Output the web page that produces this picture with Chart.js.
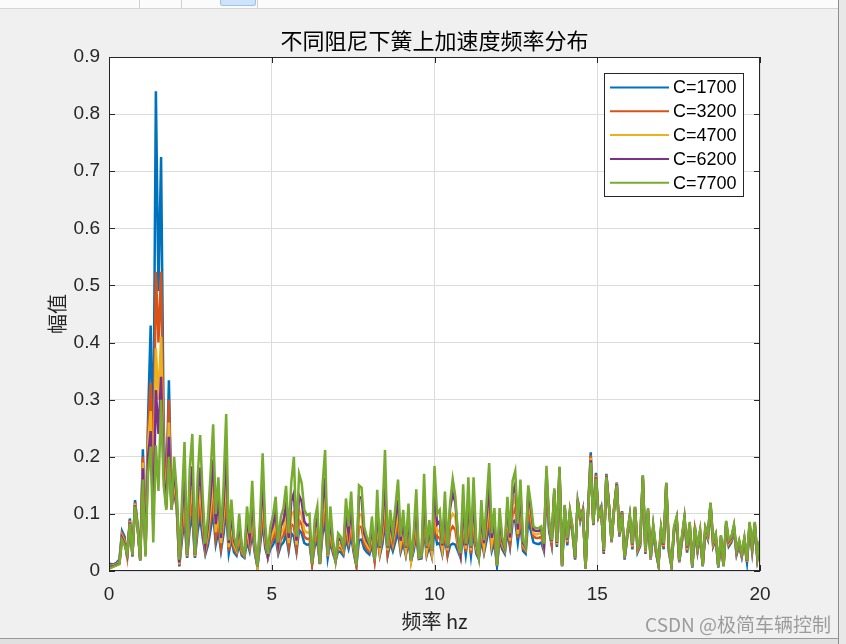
<!DOCTYPE html>
<html>
<head>
<meta charset="utf-8">
<title>不同阻尼下簧上加速度频率分布</title>
<script src="https://cdn.jsdelivr.net/npm/chart.js@4.4.1/dist/chart.umd.min.js"></script>
<style>
  html, body { margin: 0; padding: 0; background: #f0f0f0; overflow: hidden; }
  #wrap { position: relative; width: 846px; height: 644px; }
  #myChart { position: absolute; left: 0; top: 0; }
  .topbar { position: absolute; left: 0; top: 0; width: 838px; height: 8px; background: #fbfbfb; border-bottom: 1px solid #d4d4d4; }
  .sep { position: absolute; top: 0; width: 1px; height: 8px; background: #d0d0d0; }
  .btn { position: absolute; top: 0; left: 220px; width: 34px; height: 5px; background: #cfe3fa; border: 1px solid #99c2ee; border-top: none; border-radius: 0 0 3px 3px; }
  .edgeR { position: absolute; left: 838px; top: 0; width: 8px; height: 644px; background: #e8e8e8; border-left: 1px solid #8c8c8c; }
  .edgeB { position: absolute; left: 0; top: 638px; width: 838px; height: 6px; background: #e0e0e0; border-top: 1px solid #9a9a9a; }
</style>
</head>
<body>
<div id="wrap">
  <canvas id="myChart" width="846" height="644"></canvas>
  <div class="topbar"></div>
  <div class="sep" style="left:139px"></div>
  <div class="sep" style="left:181px"></div>
  <div class="btn"></div>
  <div class="sep" style="left:257px"></div>
  <div class="edgeR"></div>
  <div class="edgeB"></div>
</div>
<script>
// frequency step of the spectrum (Hz), points start at 0 Hz
const freqStep = 0.08;

const seriesNames = ['C=1700', 'C=3200', 'C=4700', 'C=6200', 'C=7700'];
const seriesColors = ['#0072BD', '#D95319', '#EDB120', '#7E2F8E', '#77AC30'];

const xTicks = [0, 5, 10, 15, 20];
const yTicks = [0, 0.1, 0.2, 0.3, 0.4, 0.5, 0.6, 0.7, 0.8, 0.9];

// amplitude values
const c1700 = [
  .013,.012,.012,.015,.02,.07,.06,.022,.092,.025,
  .124,.08,.018,.213,.04,.268,.43,.2,.84,.49,
  .725,.25,.13,.334,.11,.14,.11,.008,.054,.091,
  .023,.075,.096,.023,.068,.095,.058,.029,.045,.072,
  .102,.047,.069,.035,.065,.108,.031,.056,.033,.027,
  .047,.027,.023,.052,.035,.067,.031,.007,.044,.084,
  .04,.023,.039,.046,.058,.03,.045,.05,.064,.035,
  .066,.06,.033,.072,.066,.049,.046,.047,.012,.044,
  .052,.012,.065,.086,.023,.052,.031,.017,.035,.033,
  .027,.056,.039,.061,.031,.009,.054,.055,.039,.033,
  .029,.045,.018,.062,.027,.047,.086,.027,.049,.035,
  .052,.068,.033,.049,.027,.053,.017,.035,.062,.021,
  .022,.072,.027,.043,.025,.076,.047,.049,.029,.061,
  .027,.045,.048,.046,.035,.023,.065,.029,.069,.027,
  .069,.031,.021,.055,.031,.054,.078,.035,.05,.009,
  .055,.038,.03,.07,.042,.085,.089,.05,.085,.035,
  .03,.09,.07,.05,.048,.047,.05,.035,.14,.07,
  .045,.13,.042,.17,.008,.105,.045,.095,.065,.02,
  .125,.088,.108,.004,.11,.208,.08,.172,.098,.112,
  .03,.17,.116,.05,.112,.155,.06,.105,.02,.058,
  .09,.038,.108,.033,.044,.16,.03,.1,.02,.07,
  .033,.01,.068,.038,.147,.033,.008,.068,.087,.015,
  .05,.087,.032,.076,.006,.068,.033,.062,.008,.068,
  .055,.112,.043,.056,.006,.053,.008,.078,.043,.05,
  .071,.028,.044,.024,.049,.015,.076,.033,.076,.02,
  .044
];
const c3200 = [
  .01,.01,.011,.013,.017,.065,.055,.025,.089,.027,
  .12,.078,.019,.2,.035,.245,.33,.15,.524,.40,
  .524,.22,.12,.30,.11,.15,.115,.01,.066,.114,
  .025,.093,.12,.025,.084,.119,.071,.034,.055,.089,
  .128,.057,.086,.042,.08,.136,.036,.068,.039,.031,
  .057,.031,.026,.063,.042,.083,.036,.008,.053,.105,
  .048,.025,.047,.056,.071,.035,.055,.062,.079,.042,
  .082,.078,.039,.089,.081,.06,.056,.057,.013,.053,
  .063,.013,.08,.107,.025,.063,.036,.018,.042,.039,
  .031,.069,.047,.075,.036,.01,.078,.077,.047,.039,
  .034,.055,.019,.076,.031,.057,.107,.031,.06,.042,
  .063,.084,.039,.06,.031,.065,.018,.042,.076,.023,
  .024,.089,.031,.052,.029,.095,.057,.06,.034,.075,
  .031,.07,.078,.072,.042,.026,.08,.034,.086,.031,
  .086,.036,.023,.068,.036,.066,.097,.042,.062,.01,
  .065,.043,.034,.085,.048,.1,.11,.058,.1,.04,
  .035,.11,.085,.06,.058,.058,.06,.04,.155,.077,
  .048,.135,.045,.175,.009,.108,.049,.099,.069,.022,
  .124,.09,.107,.005,.108,.203,.081,.169,.097,.11,
  .032,.169,.115,.051,.111,.154,.062,.104,.022,.06,
  .093,.041,.11,.036,.047,.163,.032,.104,.021,.074,
  .036,.011,.071,.041,.15,.036,.009,.071,.09,.016,
  .053,.09,.035,.079,.007,.071,.036,.065,.009,.071,
  .058,.115,.046,.059,.007,.056,.009,.081,.046,.053,
  .074,.031,.047,.026,.052,.016,.079,.036,.079,.021,
  .047
];
const c4700 = [
  .008,.009,.01,.012,.015,.061,.051,.027,.087,.028,
  .118,.077,.019,.19,.03,.222,.28,.11,.39,.30,
  .41,.19,.115,.26,.108,.16,.12,.012,.079,.139,
  .027,.113,.146,.027,.102,.145,.085,.039,.065,.107,
  .156,.068,.104,.049,.096,.166,.042,.082,.046,.036,
  .068,.036,.027,.075,.049,.1,.042,.008,.062,.127,
  .057,.027,.056,.067,.085,.04,.065,.074,.095,.049,
  .099,.104,.046,.107,.098,.072,.067,.068,.013,.062,
  .075,.013,.096,.131,.027,.075,.042,.018,.049,.046,
  .036,.083,.056,.09,.042,.01,.1,.098,.056,.046,
  .039,.065,.019,.092,.036,.068,.131,.036,.072,.049,
  .075,.102,.046,.072,.036,.078,.018,.049,.092,.024,
  .026,.107,.036,.062,.033,.115,.068,.072,.039,.09,
  .036,.09,.10,.095,.049,.027,.097,.039,.104,.036,
  .104,.042,.024,.081,.042,.079,.118,.049,.074,.01,
  .078,.048,.037,.1,.053,.115,.13,.065,.118,.045,
  .038,.125,.097,.066,.064,.065,.067,.043,.165,.082,
  .05,.139,.047,.178,.009,.111,.052,.102,.072,.023,
  .123,.092,.106,.005,.106,.198,.082,.166,.096,.109,
  .034,.168,.114,.052,.111,.153,.063,.103,.023,.062,
  .095,.043,.111,.038,.05,.165,.034,.106,.022,.077,
  .039,.012,.073,.044,.152,.039,.009,.074,.092,.017,
  .056,.092,.038,.082,.007,.074,.039,.068,.009,.074,
  .061,.117,.049,.062,.007,.059,.009,.084,.049,.056,
  .077,.033,.05,.028,.055,.017,.082,.039,.082,.023,
  .05
];
const c6200 = [
  .006,.008,.009,.011,.013,.058,.048,.028,.085,.029,
  .115,.076,.02,.18,.028,.2,.245,.08,.317,.24,
  .34,.17,.11,.235,.108,.18,.13,.015,.096,.173,
  .029,.14,.183,.029,.125,.181,.104,.045,.078,.132,
  .195,.082,.128,.058,.118,.208,.049,.1,.053,.041,
  .082,.041,.03,.091,.058,.124,.049,.008,.075,.158,
  .068,.029,.066,.08,.104,.046,.078,.089,.117,.058,
  .122,.136,.053,.132,.121,.087,.08,.082,.013,.075,
  .091,.013,.118,.163,.029,.091,.049,.019,.058,.053,
  .041,.101,.066,.11,.049,.01,.13,.127,.066,.053,
  .045,.078,.02,.112,.041,.082,.163,.041,.087,.058,
  .091,.125,.053,.087,.041,.095,.019,.058,.113,.025,
  .027,.132,.041,.074,.036,.142,.082,.087,.045,.11,
  .041,.11,.136,.12,.058,.03,.119,.045,.128,.041,
  .128,.049,.025,.099,.049,.096,.146,.058,.089,.01,
  .092,.053,.04,.115,.059,.135,.152,.073,.138,.049,
  .041,.14,.108,.072,.07,.07,.073,.046,.175,.086,
  .052,.142,.049,.181,.01,.114,.055,.105,.075,.024,
  .122,.093,.105,.005,.105,.194,.082,.164,.095,.108,
  .035,.167,.114,.053,.11,.152,.064,.102,.024,.064,
  .097,.046,.112,.041,.052,.167,.036,.108,.024,.079,
  .041,.012,.075,.046,.154,.041,.01,.076,.094,.018,
  .058,.094,.041,.084,.008,.076,.041,.07,.01,.076,
  .064,.119,.052,.064,.008,.061,.01,.086,.052,.058,
  .079,.035,.052,.03,.057,.018,.084,.041,.084,.024,
  .052
];
const c7700 = [
  .004,.006,.008,.01,.012,.054,.045,.03,.083,.03,
  .113,.075,.02,.16,.025,.17,.218,.05,.22,.14,
  .30,.15,.107,.20,.107,.20,.14,.02,.12,.226,
  .03,.18,.24,.03,.16,.238,.13,.048,.095,.17,
  .257,.10,.164,.066,.15,.275,.054,.125,.06,.043,
  .10,.043,.031,.113,.066,.158,.054,.008,.09,.206,
  .08,.03,.078,.098,.13,.05,.095,.11,.149,.066,
  .155,.20,.06,.17,.154,.107,.098,.10,.013,.09,
  .113,.013,.15,.212,.03,.113,.054,.019,.066,.06,
  .043,.127,.078,.139,.054,.01,.15,.146,.078,.06,
  .048,.095,.02,.142,.043,.10,.212,.043,.107,.066,
  .113,.16,.06,.107,.043,.118,.019,.066,.143,.025,
  .028,.17,.043,.089,.037,.184,.10,.107,.048,.139,
  .043,.12,.161,.13,.066,.031,.152,.048,.164,.043,
  .164,.054,.025,.124,.054,.12,.189,.066,.11,.01,
  .11,.06,.043,.13,.066,.158,.175,.083,.16,.054,
  .043,.15,.118,.078,.075,.075,.078,.048,.184,.089,
  .054,.145,.051,.183,.01,.116,.057,.107,.078,.025,
  .121,.095,.104,.005,.104,.19,.083,.162,.095,.107,
  .037,.165,.113,.054,.11,.15,.066,.10,.025,.066,
  .098,.048,.113,.043,.054,.168,.037,.11,.025,.081,
  .043,.013,.077,.048,.155,.043,.01,.078,.095,.019,
  .06,.095,.043,.086,.008,.078,.043,.072,.01,.078,
  .066,.12,.054,.066,.008,.063,.01,.088,.054,.06,
  .081,.037,.054,.031,.059,.019,.086,.043,.086,.025,
  .054
];

const allSeries = [c1700, c3200, c4700, c6200, c7700];

const axisColor = '#262626';
const numFont = '"Liberation Sans", Arial, sans-serif';
const cjkFont = '"Noto Sans CJK SC", sans-serif';

// white axes background under the grid
const axesBackground = {
  id: 'axesBackground',
  beforeDraw(chart) {
    const { ctx, chartArea: a } = chart;
    ctx.save();
    ctx.fillStyle = '#fff';
    ctx.fillRect(a.left, a.top, a.right - a.left, a.bottom - a.top);
    ctx.restore();
  }
};

// frame, inward ticks, titles, legend and watermark (matlab figure look)
const figureDecor = {
  id: 'figureDecor',
  afterDraw(chart) {
    const { ctx, chartArea: a, scales: { x, y } } = chart;
    ctx.save();

    // axes box
    ctx.strokeStyle = axisColor;
    ctx.lineWidth = 1;
    ctx.strokeRect(a.left + 0.5, a.top + 0.5, a.right - a.left - 1, a.bottom - a.top - 1);

    // ticks pointing inside, on all four sides
    ctx.beginPath();
    xTicks.forEach(v => {
      const px = Math.round(x.getPixelForValue(v)) + 0.5;
      ctx.moveTo(px, a.bottom); ctx.lineTo(px, a.bottom - 6);
      ctx.moveTo(px, a.top); ctx.lineTo(px, a.top + 6);
    });
    yTicks.forEach(v => {
      const py = Math.round(y.getPixelForValue(v)) + 0.5;
      ctx.moveTo(a.left, py); ctx.lineTo(a.left + 6, py);
      ctx.moveTo(a.right, py); ctx.lineTo(a.right - 6, py);
    });
    ctx.stroke();

    // title
    ctx.fillStyle = '#000';
    ctx.textAlign = 'center';
    ctx.textBaseline = 'middle';
    ctx.font = '22px ' + cjkFont;
    ctx.fillText('不同阻尼下簧上加速度频率分布', (a.left + a.right) / 2, 41);

    // axis titles
    ctx.fillStyle = axisColor;
    ctx.font = '20px ' + cjkFont;
    ctx.fillText('频率 hz', (a.left + a.right) / 2, 621);
    ctx.save();
    ctx.translate(57, (a.top + a.bottom) / 2);
    ctx.rotate(-Math.PI / 2);
    ctx.fillText('幅值', 0, 0);
    ctx.restore();

    // legend
    const lx = 604, ly = 73, lw = 139, lh = 123;
    ctx.fillStyle = '#fff';
    ctx.fillRect(lx, ly, lw, lh);
    ctx.strokeStyle = axisColor;
    ctx.lineWidth = 1;
    ctx.strokeRect(lx + 0.5, ly + 0.5, lw, lh);
    ctx.font = '18px ' + numFont;
    ctx.textAlign = 'left';
    seriesNames.forEach((name, i) => {
      const ry = 87.5 + i * 23.8;
      ctx.strokeStyle = seriesColors[i];
      ctx.lineWidth = 2;
      ctx.beginPath();
      ctx.moveTo(610, ry); ctx.lineTo(669, ry);
      ctx.stroke();
      ctx.fillStyle = '#000';
      ctx.fillText(name, 673, ry + 1);
    });

    // watermark
    ctx.textAlign = 'right';
    ctx.font = '19px ' + cjkFont;
    ctx.fillStyle = 'rgba(140,140,140,0.85)';
    ctx.fillText('CSDN @极简车辆控制', 831, 625);

    ctx.restore();
  }
};

const datasets = allSeries.map((vals, i) => ({
  label: seriesNames[i],
  data: vals.map((v, k) => ({ x: +(k * freqStep).toFixed(2), y: v })),
  borderColor: seriesColors[i],
  backgroundColor: seriesColors[i],
  borderWidth: 2.5,
  pointRadius: 0,
  tension: 0,
  order: allSeries.length - 1 - i   // last series drawn on top
}));

const ctx = document.getElementById('myChart').getContext('2d');
new Chart(ctx, {
  type: 'line',
  data: { datasets: datasets },
  options: {
    responsive: false,
    animation: false,
    devicePixelRatio: 1,
    layout: { padding: { top: 57, right: 86, left: 0, bottom: 0 } },
    plugins: {
      legend: { display: false },
      title: { display: false },
      tooltip: { enabled: false }
    },
    scales: {
      x: {
        type: 'linear',
        min: 0,
        max: 20,
        afterBuildTicks: s => { s.ticks = xTicks.map(v => ({ value: v })); },
        afterFit: s => { s.height = 73; },
        ticks: {
          autoSkip: false,
          maxRotation: 0,
          padding: 12,
          color: axisColor,
          font: { family: numFont, size: 19 },
          callback: v => String(v)
        },
        grid: { color: '#dcdcdc', drawTicks: false },
        border: { display: false }
      },
      y: {
        min: 0,
        max: 0.9,
        afterBuildTicks: s => { s.ticks = yTicks.map(v => ({ value: v })); },
        afterFit: s => { s.width = 109; },
        ticks: {
          autoSkip: false,
          padding: 9,
          color: axisColor,
          font: { family: numFont, size: 19 },
          callback: v => v === 0 ? '0' : v.toFixed(1)
        },
        grid: { color: '#dcdcdc', drawTicks: false },
        border: { display: false }
      }
    }
  },
  plugins: [axesBackground, figureDecor]
});
</script>
</body>
</html>
